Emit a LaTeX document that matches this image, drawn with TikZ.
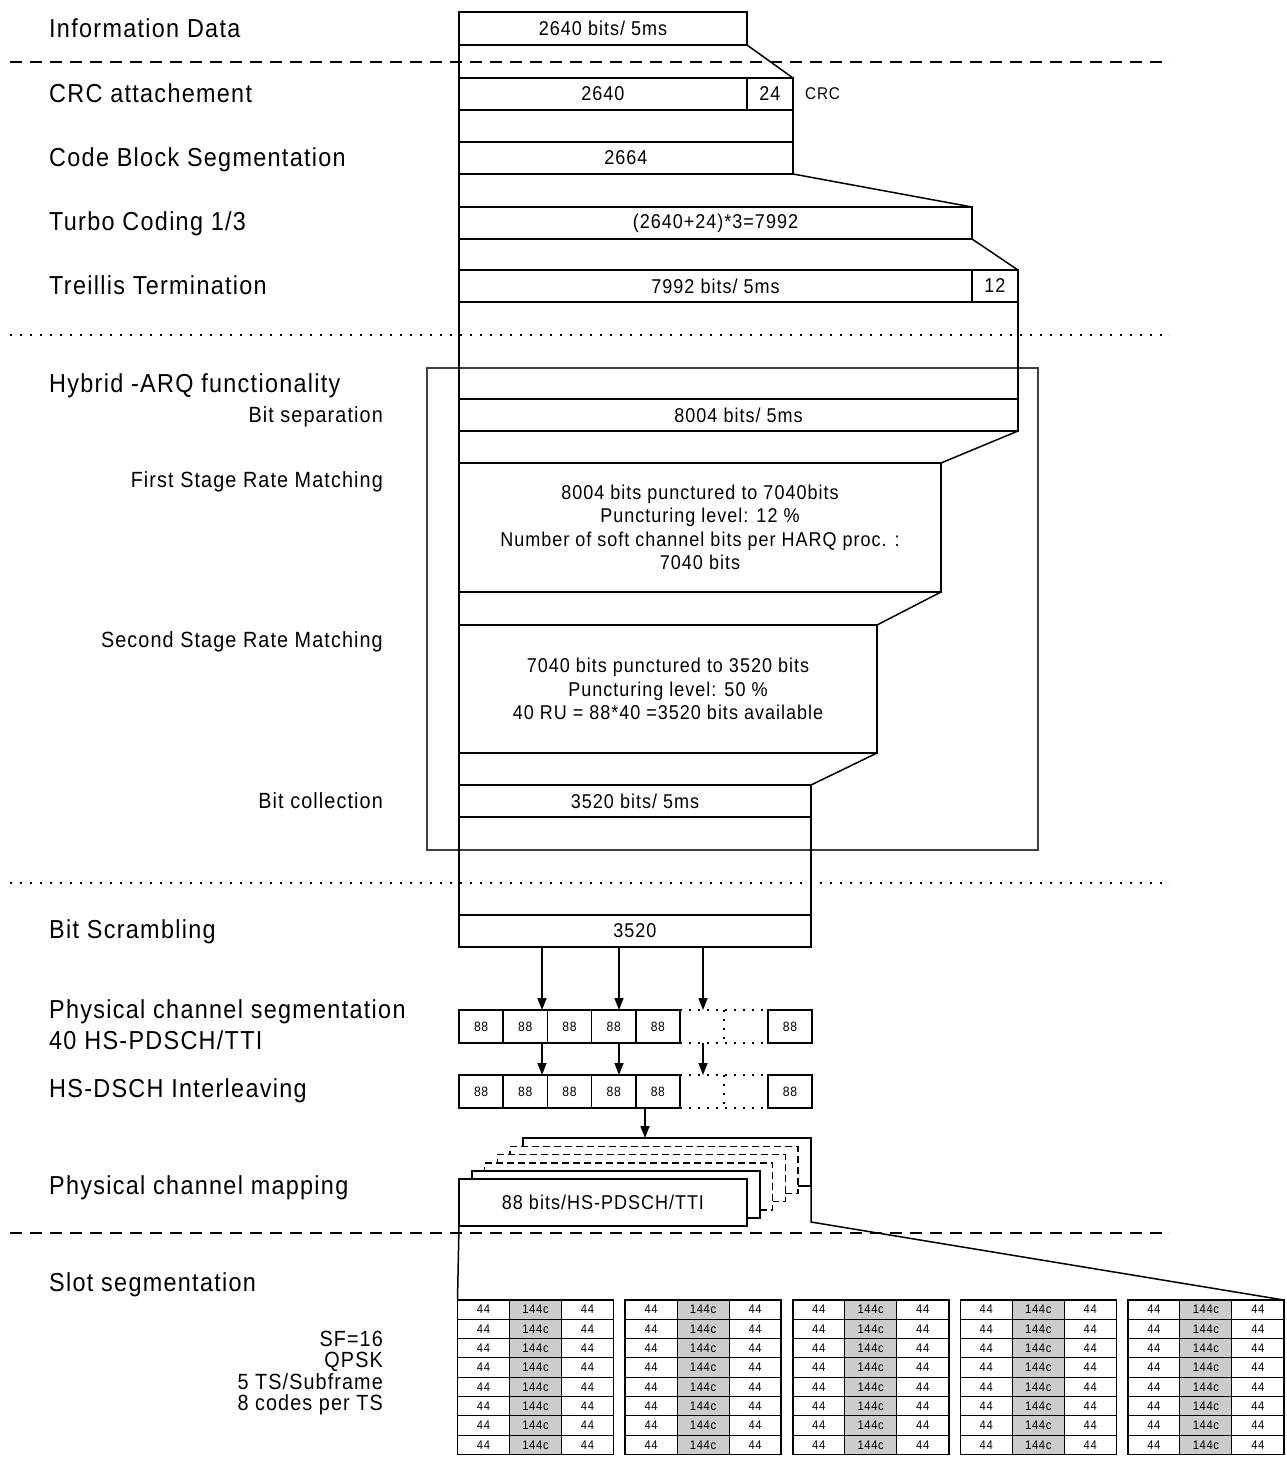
\documentclass[tikz,border=0pt]{standalone}
\usepackage{fontspec}
\setmainfont{Liberation Sans}[FakeStretch=0.9,LetterSpace=5]
\usetikzlibrary{arrows.meta,calc}
\newcommand\fmain{\fontsize{26}{30}\selectfont}
\newcommand\fsub{\fontsize{22}{26}\selectfont}
\newcommand\fbx{\fontsize{20}{23.5}\selectfont}
\newcommand\fcell{\fontsize{13.5}{16}\selectfont}
\newcommand\fgrid{\fontsize{12.5}{14}\selectfont}
\newcommand\fcrc{\fontsize{17}{20}\selectfont}
\begin{document}
\begin{tikzpicture}[x=1pt,y=-1pt,
  blk/.style={draw, line width=1.5pt, inner sep=0pt, outer sep=0pt, anchor=north west, align=center, font=\fbx},
  cellbox/.style={draw, line width=1.5pt, inner sep=0pt, outer sep=0pt, anchor=north west, font=\fcell, minimum width=44.2pt, minimum height=33pt},
  gcell/.style={draw, line width=0.9pt, inner sep=0pt, outer sep=0pt, anchor=north west, font=\fgrid, minimum width=52pt, minimum height=19.3pt},
  lab/.style={anchor=base west, font=\fmain, inner sep=0pt},
  sublab/.style={anchor=base east, font=\fsub, inner sep=0pt},
  col/.style={line width=1.5pt},
  sepdash/.style={line width=1.4pt, dash pattern=on 12pt off 8pt},
  sepdot/.style={line width=1.6pt, dash pattern=on 2pt off 8pt},
  dotline/.style={line width=1.5pt, dash pattern=on 2pt off 7pt},
  stkdash/.style={dash pattern=on 7pt off 4pt},
  arr/.style={line width=1.4pt, -{Triangle[length=12pt,width=9pt]}}
]
\useasboundingbox (0,0) rectangle (1287,1465);

% separators
\draw[sepdash] (10,62) -- (1170,62);
\draw[sepdot] (10,335) -- (1170,335);
\draw[sepdot] (10,883) -- (1170,883);
\draw[sepdash] (10,1233) -- (1170,1233);

% left labels
\node[lab] (l1) at (49,37) {Information Data};
\node[lab] (l2) at (49,102) {CRC attachement};
\node[lab] (l3) at (49,166) {Code Block Segmentation};
\node[lab] (l4) at (49,230) {Turbo Coding 1/3};
\node[lab] (l5) at (49,294) {Treillis Termination};
\node[lab] (l6) at (49,392) {Hybrid -ARQ functionality};
\node[sublab] (s1) at (383,422) {Bit separation};
\node[sublab] (s2) at (383,487) {First Stage Rate Matching};
\node[sublab] (s3) at (383,647) {Second Stage Rate Matching};
\node[sublab] (s4) at (383,808) {Bit collection};
\node[lab] (l7) at (49,938) {Bit Scrambling};
\node[lab] (l8) at (49,1018) {Physical channel segmentation};
\node[lab] (l9) at (49,1049) {40 HS-PDSCH/TTI};
\node[lab] (l10) at (49,1097) {HS-DSCH Interleaving};
\node[lab] (l11) at (49,1194) {Physical channel mapping};
\node[lab] (l12) at (49,1291) {Slot segmentation};
\node[sublab] (s5) at (383,1346) {SF=16};
\node[sublab] (s6) at (383,1367.5) {QPSK};
\node[sublab] (s7) at (383,1389) {5 TS/Subframe};
\node[sublab] (s8) at (383,1410.5) {8 codes per TS};

% HARQ frame
\node[draw=black!75, line width=1.2pt, minimum width=611pt, minimum height=482pt, anchor=north west, inner sep=0pt, outer sep=0pt] (harq) at (427,368) {};

% column boxes
\node[blk, minimum width=288pt, minimum height=33pt] (info) at (459,12) {2640 bits/ 5ms};
\node[blk, minimum width=288pt, minimum height=32pt] (crcA) at (459,78) {2640};
\node[blk, minimum width=46pt, minimum height=32pt] (crcB) at (747,78) {24};
\node[anchor=west, font=\fcrc, inner sep=0pt] (crclab) at (805,94) {CRC};
\node[blk, minimum width=334pt, minimum height=32pt] (cbs) at (459,142) {2664};
\node[blk, minimum width=513pt, minimum height=32pt] (turbo) at (459,207) {(2640+24)*3=7992};
\node[blk, minimum width=513pt, minimum height=32pt] (trelA) at (459,270) {7992 bits/ 5ms};
\node[blk, minimum width=46pt, minimum height=32pt] (trelB) at (972,270) {12};
\node[blk, minimum width=559pt, minimum height=32pt] (bitsep) at (459,399) {8004 bits/ 5ms};
\node[blk, minimum width=482pt, minimum height=129pt] (rm1) at (459,463) {8004 bits punctured to 7040bits\\Puncturing level: 12 \%\\Number of soft channel bits per HARQ proc. :\\7040 bits};
\node[blk, minimum width=418pt, minimum height=128pt] (rm2) at (459,625) {7040 bits punctured to 3520 bits\\Puncturing level: 50 \%\\40 RU = 88*40 =3520 bits available};
\node[blk, minimum width=352pt, minimum height=32pt] (bitcol) at (459,785) {3520 bits/ 5ms};
\node[blk, minimum width=352pt, minimum height=32pt] (scr) at (459,915) {3520};

% column outline
\draw[col] (info.south west) -- (scr.north west);
\draw[col] (info.south east) -- (crcB.north east);
\draw[col] (crcB.south east) -- (cbs.north east);
\draw[col] (cbs.south east) -- (turbo.north east);
\draw[col] (turbo.south east) -- (trelB.north east);
\draw[col] (trelB.south east) -- (bitsep.north east);
\draw[col] (bitsep.south east) -- (rm1.north east);
\draw[col] (rm1.south east) -- (rm2.north east);
\draw[col] (rm2.south east) -- (bitcol.north east);
\draw[col] (bitcol.south east) -- (scr.north east);

% segmentation rows
\foreach \i in {1,...,5} {
  \node[cellbox] (r1c\i) at (459+44.2*\i-44.2,1010) {88};
  \node[cellbox] (r2c\i) at (459+44.2*\i-44.2,1075) {88};
}
\node[cellbox, minimum width=44pt] (r1c6) at (768,1010) {88};
\node[cellbox, minimum width=44pt] (r2c6) at (768,1075) {88};
\draw[dotline] (r1c5.north east) -- (r1c6.north west);
\draw[dotline] (r1c5.south east) -- (r1c6.south west);
\draw[dotline] ($(r1c5.north east)!0.5!(r1c6.north west)$) -- ($(r1c5.south east)!0.5!(r1c6.south west)$);
\draw[dotline] (r2c5.north east) -- (r2c6.north west);
\draw[dotline] (r2c5.south east) -- (r2c6.south west);
\draw[dotline] ($(r2c5.north east)!0.5!(r2c6.north west)$) -- ($(r2c5.south east)!0.5!(r2c6.south west)$);

% arrows
\coordinate (ax1) at (542,0);
\coordinate (ax2) at (619,0);
\coordinate (ax3) at (703,0);
\coordinate (ax4) at (645,0);
\draw[arr] (ax1 |- scr.south) -- (ax1 |- r1c2.north);
\draw[arr] (ax2 |- scr.south) -- (ax2 |- r1c4.north);
\draw[arr] (ax3 |- scr.south) -- (ax3 |- r1c6.north);
\draw[arr] (ax1 |- r1c2.south) -- (ax1 |- r2c2.north);
\draw[arr] (ax2 |- r1c4.south) -- (ax2 |- r2c4.north);
\draw[arr] (ax3 |- r1c6.south) -- (ax3 |- r2c6.north);

% stack of physical channels
\node[blk, fill=white, minimum width=288pt, minimum height=48pt] (L5) at (523,1138) {};
\node[blk, fill=white, stkdash, minimum width=288pt, minimum height=47pt] (L4) at (510.2,1146.6) {};
\node[blk, fill=white, stkdash, minimum width=288pt, minimum height=47pt] (L3) at (497.4,1154.6) {};
\node[blk, fill=white, stkdash, minimum width=288pt, minimum height=47pt] (L2) at (484.6,1162.8) {};
\node[blk, fill=white, minimum width=288pt, minimum height=47pt] (L1) at (471.8,1171) {};
\node[blk, fill=white, minimum width=288pt, minimum height=47pt] (L0) at (459,1179) {88 bits/HS-PDSCH/TTI};
\draw[arr] (ax4 |- r2c5.south) -- (ax4 |- L5.north);

% slot grid
\foreach \k in {0,...,4} {
  \pgfmathsetmacro\gx{457.5+167.6*\k}
  \foreach \r in {0,...,7} {
    \pgfmathsetmacro\gy{1300+19.3*\r}
    \node[gcell] (g\k-\r-a) at (\gx,\gy) {44};
    \node[gcell, fill=black!20] (g\k-\r-b) at (\gx+52,\gy) {144c};
    \node[gcell] (g\k-\r-c) at (\gx+104,\gy) {44};
  }
  \node[draw, line width=1.6pt, minimum width=156pt, minimum height=154.4pt, anchor=north west, inner sep=0pt, outer sep=0pt] (g\k) at (\gx,1300) {};
}
\draw[col] (L0.south west) -- (g0.north west);
\draw[col] (L5.south east) -- ++(0,36) -- (g4.north east);
\end{tikzpicture}
\end{document}
